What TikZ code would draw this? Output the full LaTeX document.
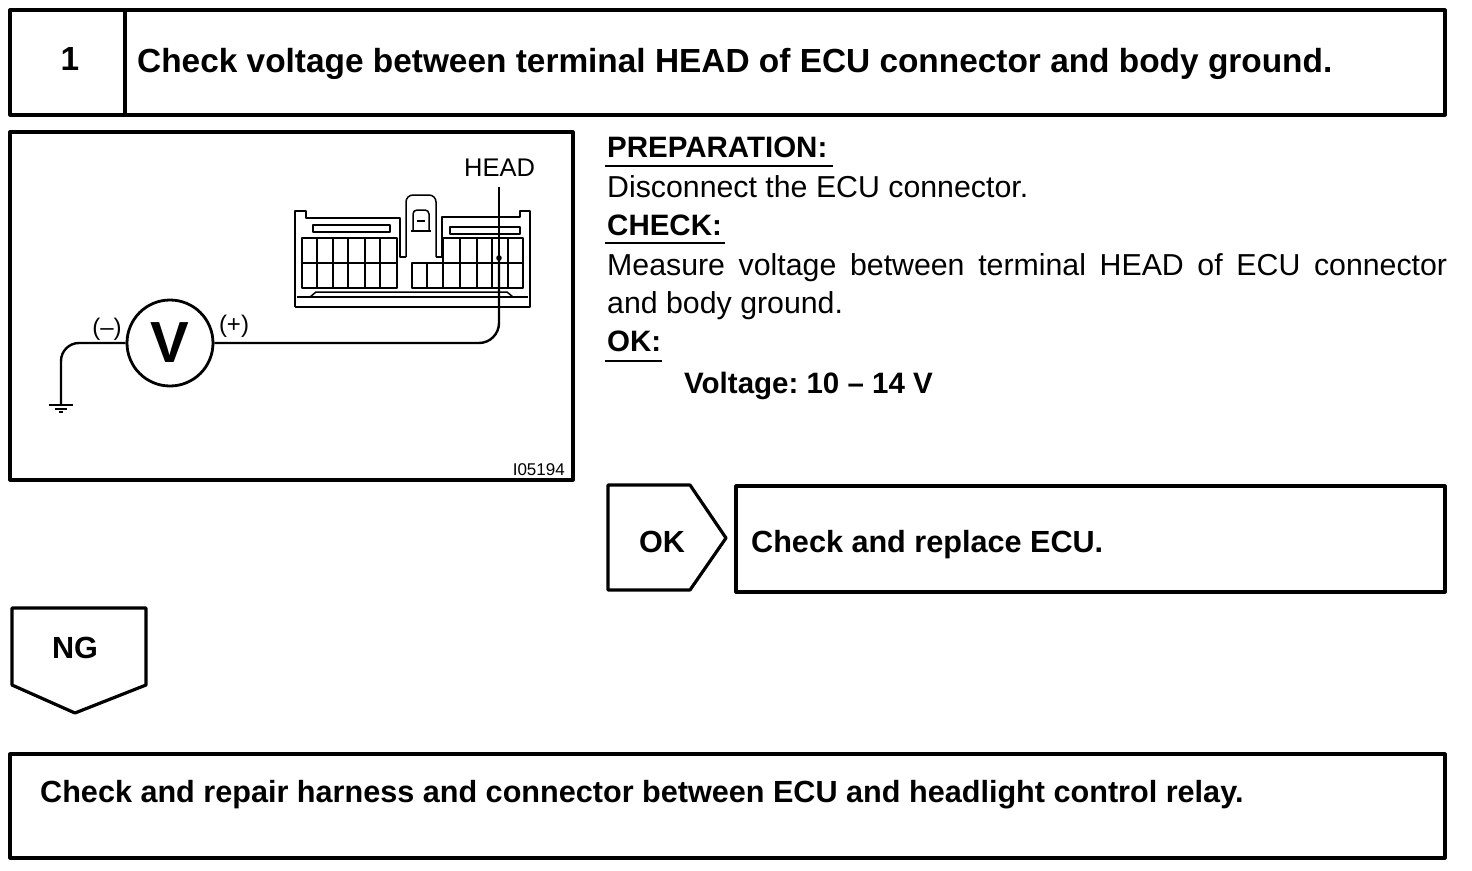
\documentclass[tikz,border=0pt]{standalone}
\usepackage{fontspec}
\setmainfont{Liberation Sans}
\frenchspacing
\begin{document}
\begin{tikzpicture}[x=1pt,y=-1pt,line join=round,
  box/.style={draw,line width=3.2pt},
  wire/.style={line width=2.4pt},
  fine/.style={line width=1.5pt},
  body/.style={font=\fontsize{30.3}{36}\selectfont,inner sep=0pt},
  bodyb/.style={font=\bfseries\fontsize{29.5}{36}\selectfont,inner sep=0pt},
  head/.style={font=\bfseries\fontsize{30.6}{36}\selectfont,inner sep=0pt},
  title/.style={font=\bfseries\fontsize{33.4}{36}\selectfont,inner sep=0pt},
  small/.style={font=\fontsize{24}{26}\selectfont,inner sep=0pt},
]
\useasboundingbox (0,0) rectangle (1472,870);

% ---------- header ----------
\draw[box] (10,10) rectangle (1445,115);
\draw[box] (125,10) -- (125,115);
\node[title,anchor=base] (num) at (70,70) {1};
\node[title,anchor=base west] (titletext) at (137,72) {Check voltage between terminal HEAD of ECU connector and body ground.};

% ---------- illustration frame ----------
\draw[box] (10,132) rectangle (573,480);
\node[font=\fontsize{17}{17}\selectfont,inner sep=0pt,anchor=base east] (fig) at (565,475) {I05194};

% connector body
\draw[fine] (295,307) -- (295,211) -- (306,211) -- (306,218) -- (400,218) -- (400,257) -- (406,257);
\draw[fine,rounded corners=7pt] (406,257) -- (406,195) -- (436,195) -- (436,257);
\draw[fine] (436,257) -- (442,257) -- (442,217) -- (520,217) -- (520,211) -- (530,211) -- (530,307) -- (295,307);
\draw[fine] (297,297) -- (528,297);
\draw[fine] (310,297) -- (316,292) -- (507,292) -- (513,297);
\draw[fine,rounded corners=4pt] (413,231) -- (413,210) -- (429,210) -- (429,231);
\draw[fine] (411,231) -- (431,231);
\draw[fine] (417,221) -- (425,221);
\draw[fine] (313,225) rectangle (390,232);
\draw[fine] (450,227) rectangle (520,234);
% left terminal grid
\draw[fine] (302,238) rectangle (397,288);
\draw[fine] (302,263) -- (397,263);
\foreach \x in {317,333,348,365,380} \draw[fine] (\x,238) -- (\x,288);
% right terminal grid
\draw[fine] (443,238) -- (523,238) -- (523,288) -- (412,288) -- (412,263) -- (443,263) -- cycle;
\draw[fine] (443,263) -- (523,263);
\foreach \x in {460,477,492,508} \draw[fine] (\x,238) -- (\x,288);
\draw[fine] (427,263) -- (427,288);
\draw[fine] (443,263) -- (443,288);
\draw[line width=2.4pt] (492,238) rectangle (508,263);

% HEAD label and terminal
\node[small,font=\fontsize{25.5}{26}\selectfont,anchor=base west] (headlbl) at (464,176) {HEAD};
\coordinate (term) at (499,258);
\fill (term) circle (2.8pt);
\draw[fine] (499,187) -- (term);

% voltmeter
\node[draw,circle,line width=2.8pt,minimum size=86pt,inner sep=0pt,
      font=\bfseries\fontsize{58}{58}\selectfont] (meter) at (170,343) {V};
\node[small,anchor=base] (neg) at (107,335) {(–)};
\node[small,anchor=base] (pos) at (234,332) {(+)};
\coordinate (gnd) at (61,405);
\draw[wire,rounded corners=20pt] (meter.east) -- (499,343) -- (term);
\draw[wire,rounded corners=18pt] (meter.west) -- (61,343) -- (gnd);
\draw[line width=1.8pt] (49,405) -- (73,405);
\draw[line width=1.5pt] (55,409) -- (67,409);
\draw[line width=1.3pt] (59,412) -- (63,412);

% ---------- instructions ----------
\node[bodyb,anchor=base west] (prep) at (607,157) {PREPARATION:};
\draw[line width=1.6pt] (605,166) -- (833,166);
\node[body,anchor=base west] (prept) at (607,197) {Disconnect the ECU connector.};
\node[bodyb,anchor=base west] (chk) at (607,235) {CHECK:};
\draw[line width=1.6pt] (605,243) -- (725,243);
\node[body,anchor=base west] (chkt1) at (607,275) {\makebox[840pt][s]{Measure voltage between terminal HEAD of ECU connector}};
\node[body,anchor=base west] (chkt2) at (607,313) {and body ground.};
\node[bodyb,anchor=base west] (ok) at (607,351) {OK:};
\draw[line width=1.6pt] (605,361) -- (662,361);
\node[bodyb,anchor=base west] (volt) at (684,393) {Voltage: 10 – 14 V};

% ---------- OK branch ----------
\draw[box] (608,485) -- (690,485) -- (726,538) -- (690,590) -- (608,590) -- cycle;
\node[head,anchor=base] (oklbl) at (662,552) {OK};
\draw[box] (736,486) rectangle (1445,592);
\node[head,anchor=base west] (okres) at (751,552) {Check and replace ECU.};

% ---------- NG branch ----------
\draw[box] (12,608) -- (146,608) -- (146,685) -- (75,713) -- (12,685) -- cycle;
\node[head,anchor=base] (nglbl) at (75,658) {NG};
\draw[box] (10,754) rectangle (1445,858);
\node[head,anchor=base west] (ngres) at (40,802) {Check and repair harness and connector between ECU and headlight control relay.};
\end{tikzpicture}
\end{document}
